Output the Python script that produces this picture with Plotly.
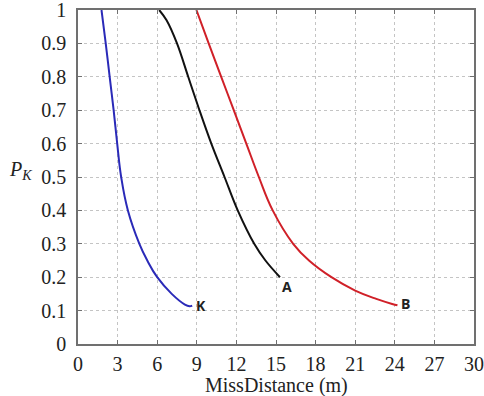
import plotly.graph_objects as go

# Curve K (blue)
k_x = [1.78, 2.1, 2.4, 2.7, 2.97, 3.27, 3.78, 4.65, 5.25, 6.0, 7.1, 8.1, 8.45, 8.65]
k_y = [1.0, 0.9, 0.8, 0.7, 0.6, 0.5, 0.4, 0.3, 0.25, 0.2, 0.15, 0.118, 0.113, 0.115]
# Curve A (black)
a_x = [6.15, 6.7, 7.5, 8.35, 9.2, 10.1, 11.1, 12.1, 13.35, 14.2, 15.3]
a_y = [1.0, 0.97, 0.9, 0.8, 0.7, 0.6, 0.5, 0.4, 0.3, 0.25, 0.2]
# Curve B (red)
b_x = [8.97, 9.9, 10.85, 11.8, 12.75, 13.7, 14.75, 16.3, 17.5, 19.2, 21.0, 22.6, 23.8, 24.2]
b_y = [1.0, 0.9, 0.8, 0.7, 0.6, 0.5, 0.4, 0.3, 0.25, 0.2, 0.16, 0.135, 0.12, 0.116]

x_ticks = [0, 3, 6, 9, 12, 15, 18, 21, 24, 27, 30]
y_ticks = [0, 0.1, 0.2, 0.3, 0.4, 0.5, 0.6, 0.7, 0.8, 0.9, 1]
y_tick_labels = ["0", "0.1", "0.2", "0.3", "0.4", "0.5", "0.6", "0.7", "0.8", "0.9", "1"]

labels = ["K", "A", "B"]
label_x = [9.35, 15.8, 24.8]
label_y = [0.115, 0.172, 0.12]

fig = go.Figure()
fig.add_trace(go.Scatter(x=k_x, y=k_y, mode="lines", line=dict(color="#2a2ab8", width=2, shape="spline", smoothing=1.2), showlegend=False))
fig.add_trace(go.Scatter(x=a_x, y=a_y, mode="lines", line=dict(color="#111111", width=2, shape="spline", smoothing=1.0), showlegend=False))
fig.add_trace(go.Scatter(x=b_x, y=b_y, mode="lines", line=dict(color="#d02028", width=2, shape="spline", smoothing=1.2), showlegend=False))

for t, x, y in zip(labels, label_x, label_y):
    fig.add_annotation(x=x, y=y, text="<b>" + t + "</b>", showarrow=False,
                       font=dict(family="Open Sans, Liberation Sans, sans-serif", size=14, color="#222222"))

fig.add_annotation(xref="paper", yref="paper", x=-0.145, y=0.52, xanchor="center", yanchor="middle",
                   text="<i>P<sub>K</sub></i>",
                   showarrow=False, font=dict(family="Liberation Serif, serif", size=20, color="#222222"))

fig.add_annotation(xref="paper", yref="paper", x=0.5, y=-0.125, xanchor="center", yanchor="middle",
                   text="MissDistance (m)",
                   showarrow=False, font=dict(family="Liberation Serif, serif", size=20, color="#222222"))

fig.update_xaxes(range=[0, 30], tickvals=x_ticks, ticktext=[str(v) for v in x_ticks],
                 showgrid=True, gridcolor="#c4c4c4", griddash="dot", gridwidth=1,
                 showline=True, linecolor="#707070", linewidth=1.5, mirror="ticks",
                 ticks="inside", ticklen=4, tickcolor="#707070", ticklabelstandoff=1,
                 ticklabeloverflow="allow",
                 tickfont=dict(family="Liberation Serif, serif", size=20, color="#222222"),
                 automargin=False, zeroline=False)
fig.update_yaxes(range=[0, 1], tickvals=y_ticks, ticktext=y_tick_labels,
                 showgrid=True, gridcolor="#c4c4c4", griddash="dot", gridwidth=1,
                 showline=True, linecolor="#707070", linewidth=1.5, mirror="ticks",
                 ticks="inside", ticklen=4, tickcolor="#707070", ticklabelstandoff=6,
                 ticklabeloverflow="allow",
                 tickfont=dict(family="Liberation Serif, serif", size=20, color="#222222"),
                 automargin=False, zeroline=False)

fig.update_layout(width=484, height=396, margin=dict(l=78, r=10, t=10, b=52),
                  plot_bgcolor="white", paper_bgcolor="white")

fig.write_html("out.html", config={"displayModeBar": False},
               post_script="document.body.style.margin='0px';")
